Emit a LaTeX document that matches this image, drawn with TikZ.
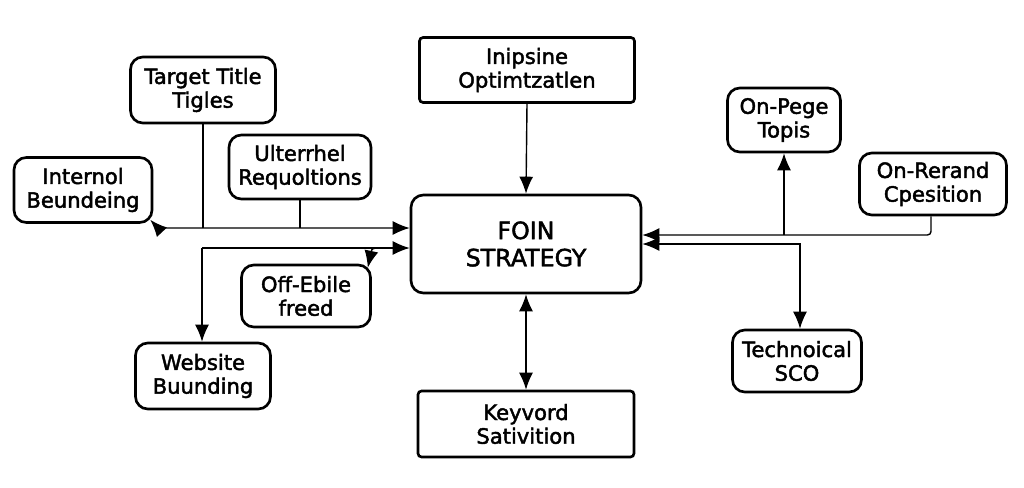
\documentclass[tikz,border=0pt]{standalone}
\usepackage{fontspec}
\setmainfont{DejaVu Sans}
\newfontfamily\boxfont{DejaVu Sans}[FakeBold=2]
\usetikzlibrary{arrows.meta}

\begin{document}
\begin{tikzpicture}[x=0.02cm, y=-0.02cm, >={Latex[length=3.4mm,width=2.8mm]},
    box/.style={draw, line width=1.5pt, rounded corners=7pt, align=center,
      inner sep=0pt, font=\boxfont\fontsize{12}{13.5}\selectfont},
    flatbox/.style={box, rounded corners=2pt},
    link/.style={line width=0.8pt}]
    \useasboundingbox (0,0) rectangle (1024,487);

    % centre
    \node[box, minimum width=4.6cm, minimum height=1.96cm,
      font=\boxfont\fontsize{13.5}{15.5}\selectfont] (strategy) at (526,244)
      {FOIN\\STRATEGY};

    % top and bottom
    \node[flatbox, minimum width=4.3cm, minimum height=1.3cm] (insp) at (527,70)
      {Inipsine\\Optimtzatlen};
    \node[flatbox, minimum width=4.32cm, minimum height=1.32cm] (key) at (526,424)
      {Keyvord\\Sativition};

    % left side
    \node[box, minimum width=2.9cm, minimum height=1.32cm] (title) at (203,90)
      {Target Title\\Tigles};
    \node[box, minimum width=2.76cm, minimum height=1.3cm] (intern) at (83,190)
      {Internol\\Beundeing};
    \node[box, minimum width=2.84cm, minimum height=1.28cm] (ulter) at (300,167)
      {Ulterrhel\\Requoltions};
    \node[box, minimum width=2.58cm, minimum height=1.24cm] (offe) at (306,296)
      {Off-Ebile\\freed};
    \node[box, minimum width=2.7cm, minimum height=1.32cm] (web) at (203,376)
      {Website\\Buunding};

    % right side
    \node[box, minimum width=2.26cm, minimum height=1.28cm] (page) at (784,120)
      {On-Pege\\Topis};
    \node[box, minimum width=2.94cm, minimum height=1.24cm] (rerand) at (933,184)
      {On-Rerand\\Cpesition};
    \node[box, minimum width=2.58cm, minimum height=1.24cm] (tech) at (797,361)
      {Technoical\\SCO};

    % connectors, left
    \coordinate (lup) at (170,228);
    \coordinate (llow) at (202,248);
    \draw[link, <->] ([shift={(-3,-4)}]intern.south east) .. controls (158,228) .. (lup)
      -- (strategy.west |- lup);
    \draw[link] (title.south) -- (title.south |- lup);
    \draw[link] (ulter.south) -- (ulter.south |- lup);
    \draw[link, ->] (llow) -- (strategy.west |- llow);
    \draw[link, ->] (llow) -- (web.north -| llow);
    \draw[link, ->] (386,248) .. controls (372,248) .. ([shift={(-4,4)}]offe.north east);

    % connectors, top and bottom
    \draw[link, ->] (insp.south) -- (strategy.north);
    \draw[link, <->] (strategy.south) -- (key.north);

    % connectors, right
    \coordinate (rup) at (931,235);
    \coordinate (rlow) at (800,244);
    \draw[link, ->, rounded corners=2pt] (rerand.south -| rup) -- (rup)
      -- (strategy.east |- rup);
    \draw[link, ->] (page.south |- rup) -- (page.south);
    \draw[link, <->] (strategy.east |- rlow) -| (tech.north -| rlow);
\end{tikzpicture}
\end{document}
